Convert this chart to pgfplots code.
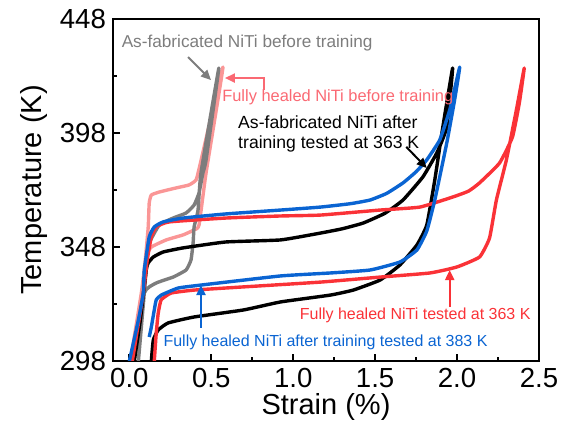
\documentclass[border=0pt]{standalone}
\usepackage{pgfplots}
\pgfplotsset{compat=1.18}
\usetikzlibrary{arrows.meta}
\usepackage{fontspec}
\setmainfont{Liberation Sans}
\definecolor{cgray}{RGB}{125,125,125}
\definecolor{cpink}{RGB}{250,150,150}
\definecolor{cpinktxt}{RGB}{250,105,115}
\definecolor{cred}{RGB}{250,50,55}
\definecolor{cblue}{RGB}{10,100,210}
\begin{document}
\begin{tikzpicture}
\begin{axis}[
    name=ax,
    scale only axis,
    width=213pt, height=171pt,
    xmin=-0.1, xmax=2.5,
    ymin=298, ymax=448,
    xtick={0,0.5,1,1.5,2,2.5},
    ytick={298,348,398,448},
    minor x tick num=1, minor y tick num=1,
    xtick pos=bottom, ytick pos=left,
    tick align=inside,
    major tick length=3.5pt, minor tick length=2.2pt,
    tick style={line width=1pt, black},
    axis line style={line width=1.4pt},
    xticklabel style={/pgf/number format/.cd, fixed, fixed zerofill, precision=1},
    /pgf/number format/assume math mode=true,
    ticklabel style={font=\fontsize{13.8}{14}\selectfont},
    label style={font=\fontsize{14.5}{15}\selectfont},
    xlabel={Strain (\%)},
    ylabel={Temperature (K)},
    xlabel style={yshift=4pt},
    ylabel style={yshift=-0.5pt},
    every axis plot/.append style={line width=1.7pt, line join=round, smooth, tension=0.25},
]
% fully healed before training
\addplot[cpink] coordinates {(0.006,298)(0.073,327.8)(0.097,342.3)(0.115,356.8)(0.121,367.3)(0.134,370.8)(0.182,372.1)(0.285,373.9)(0.364,375.2)(0.407,377.4)(0.431,384.0)(0.571,426.9)(0.468,380.5)(0.425,357.6)(0.395,355.5)(0.328,353.3)(0.225,351.1)(0.134,348.0)(0.109,344.5)(0.079,329.1)(0.012,298)};
% as-fabricated before training
\addplot[cgray] coordinates {(0.055,298)(0.091,327.8)(0.109,344.5)(0.121,349.8)(0.182,357.6)(0.267,360.7)(0.346,362.9)(0.395,366.4)(0.425,371.7)(0.449,380.5)(0.468,386.2)(0.546,426.5)(0.437,380.5)(0.419,364.2)(0.395,356.8)(0.389,349.8)(0.376,342.3)(0.346,337.9)(0.267,334.8)(0.164,332.2)(0.091,327.8)(0.055,298)};
% as-fabricated after training, 363 K
\addplot[black] coordinates {(0.030,298)(0.067,316.0)(0.103,337.9)(0.115,341.0)(0.146,343.6)(0.206,345.8)(0.328,347.6)(0.589,350.2)(0.923,351.1)(1.166,354.1)(1.300,356.0)(1.427,358.5)(1.560,362.8)(1.670,368.6)(1.791,378.7)(1.876,389.2)(1.937,400.6)(1.973,426.5)(1.913,400.6)(1.864,377.4)(1.815,357.6)(1.755,348.9)(1.651,340.1)(1.530,333.5)(1.366,329.1)(1.226,326.9)(0.923,323.9)(0.698,320.4)(0.395,317.3)(0.237,314.7)(0.176,311.6)(0.146,307.2)(0.134,298)};
% fully healed, 363 K
\addplot[cred] coordinates {(0.018,298)(0.085,327.8)(0.109,342.3)(0.134,352.4)(0.164,356.8)(0.243,359.0)(0.589,360.7)(0.923,361.6)(1.166,362.0)(1.530,364.2)(1.773,365.5)(1.973,369.9)(2.070,372.5)(2.137,376.1)(2.259,384.8)(2.338,396.2)(2.380,411.2)(2.410,426.5)(2.362,408.1)(2.301,386.2)(2.240,368.6)(2.198,351.9)(2.137,343.6)(1.998,339.2)(1.834,336.6)(1.530,334.8)(1.166,332.6)(0.698,330.5)(0.395,329.1)(0.255,327.8)(0.194,324.8)(0.176,319.0)(0.164,310.3)(0.152,298)};
% fully healed after training, 383 K
\addplot[cblue] coordinates {(0.0,298)(0.055,316.0)(0.085,327.8)(0.091,337.9)(0.121,352.4)(0.152,356.8)(0.206,359.0)(0.328,360.7)(0.589,362.5)(0.923,364.2)(1.166,365.5)(1.350,367.0)(1.469,368.6)(1.570,371.5)(1.670,376.1)(1.750,381.0)(1.815,386.2)(1.894,394.9)(1.955,408.1)(2.016,426.9)(1.985,412.5)(1.937,393.6)(1.864,368.6)(1.815,355.0)(1.755,346.7)(1.651,341.4)(1.469,337.9)(1.226,336.6)(0.923,335.3)(0.437,331.3)(0.298,330.0)(0.194,326.9)(0.164,324.8)(0.152,320.4)(0.134,312.9)(0.121,308.5)};

% annotations
\node[anchor=west, text=cgray, inner sep=0pt, font=\fontsize{8.6}{10}\selectfont] at (axis cs:-0.049,437.5) {As-fabricated NiTi before training};
\draw[cgray, line width=1pt, -{Triangle[length=5pt,width=4.5pt]}] (axis cs:0.358,431.3) -- (axis cs:0.498,421.2);
\node[anchor=west, text=cpinktxt, inner sep=0pt, font=\fontsize{8.2}{10}\selectfont] at (axis cs:0.565,413.8) {Fully healed NiTi before training};
\draw[cpinktxt, line width=1pt, -{Triangle[length=5pt,width=4.5pt]}] (axis cs:0.820,416.9) -- (axis cs:0.820,422.1) -- (axis cs:0.583,422.1);
\node[anchor=west, align=left, text=black, inner sep=0pt, font=\fontsize{8.8}{9.6}\selectfont] at (axis cs:0.662,397.6) {As-fabricated NiTi after\\training tested at 363 K};
\draw[black, line width=1pt, -{Triangle[length=5pt,width=4.5pt]}] (axis cs:1.690,391.9) -- (axis cs:1.815,382.6);
\node[anchor=west, text=cred, inner sep=0pt, font=\fontsize{8}{9.5}\selectfont] at (axis cs:1.038,318.2) {Fully healed NiTi tested at 363 K};
\draw[cred, line width=1pt, -{Triangle[length=5pt,width=4.5pt]}] (axis cs:1.955,321.7) -- (axis cs:1.955,337.9);
\node[anchor=west, text=cblue, inner sep=0pt, font=\fontsize{8}{9.5}\selectfont] at (axis cs:0.206,306.3) {Fully healed NiTi after training tested at 383 K};
\draw[cblue, line width=1pt, -{Triangle[length=5pt,width=4.5pt]}] (axis cs:0.437,312.5) -- (axis cs:0.437,331.3);
\end{axis}
% page margins as in the reference
\path (ax.south west) ++(-56.5pt,-35pt) (ax.north east) ++(15pt,9.5pt);
\end{tikzpicture}
\end{document}
